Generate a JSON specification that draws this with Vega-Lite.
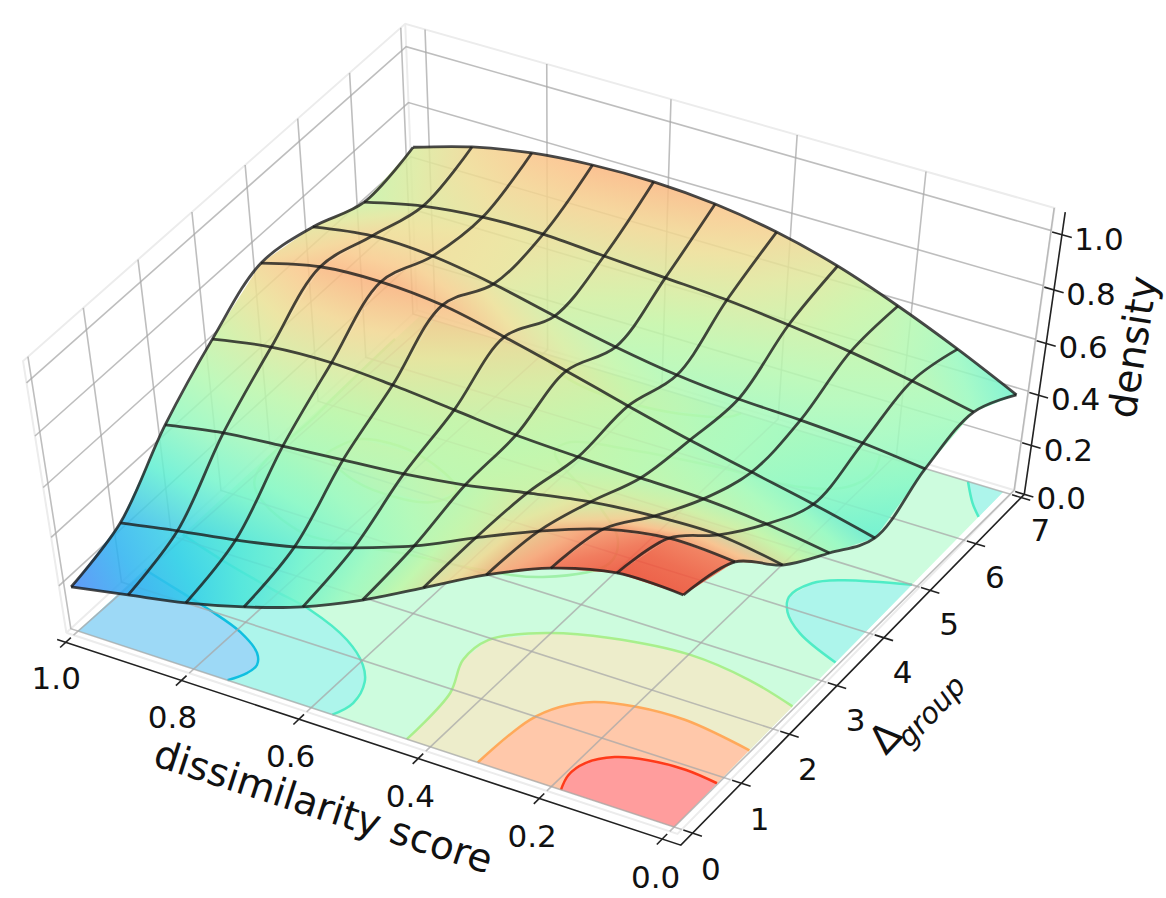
{"$schema":"https://vega.github.io/schema/vega-lite/v6.json","width":1166,"height":898,"padding":0,"autosize":{"type":"none"},"background":"white","config":{"view":{"stroke":null}},
"datasets":{"knots":[
{"id":7,"score":1.0,"delta":7,"density":0.658},{"id":17,"score":0.9,"delta":7,"density":0.723},{"id":27,"score":0.8,"delta":7,"density":0.765},{"id":37,"score":0.7,"delta":7,"density":0.785},{"id":47,"score":0.6,"delta":7,"density":0.788},{"id":57,"score":0.5,"delta":7,"density":0.772},{"id":67,"score":0.4,"delta":7,"density":0.735},{"id":77,"score":0.3,"delta":7,"density":0.676},{"id":87,"score":0.2,"delta":7,"density":0.594},{"id":97,"score":0.1,"delta":7,"density":0.499},{"id":107,"score":0.0,"delta":7,"density":0.393},
{"id":6,"score":1.0,"delta":6,"density":0.619},{"id":16,"score":0.9,"delta":6,"density":0.670},{"id":26,"score":0.8,"delta":6,"density":0.695},{"id":36,"score":0.7,"delta":6,"density":0.698},{"id":46,"score":0.6,"delta":6,"density":0.683},{"id":56,"score":0.5,"delta":6,"density":0.669},{"id":66,"score":0.4,"delta":6,"density":0.654},{"id":76,"score":0.3,"delta":6,"density":0.629},{"id":86,"score":0.2,"delta":6,"density":0.597},{"id":96,"score":0.1,"delta":6,"density":0.557},{"id":106,"score":0.0,"delta":6,"density":0.509},
{"id":5,"score":1.0,"delta":5,"density":0.695},{"id":15,"score":0.9,"delta":5,"density":0.728},{"id":25,"score":0.8,"delta":5,"density":0.720},{"id":35,"score":0.7,"delta":5,"density":0.683},{"id":45,"score":0.6,"delta":5,"density":0.631},{"id":55,"score":0.5,"delta":5,"density":0.583},{"id":65,"score":0.4,"delta":5,"density":0.546},{"id":75,"score":0.3,"delta":5,"density":0.525},{"id":85,"score":0.2,"delta":5,"density":0.516},{"id":95,"score":0.1,"delta":5,"density":0.500},{"id":105,"score":0.0,"delta":5,"density":0.473},
{"id":4,"score":1.0,"delta":4,"density":0.731},{"id":14,"score":0.9,"delta":4,"density":0.785},{"id":24,"score":0.8,"delta":4,"density":0.797},{"id":34,"score":0.7,"delta":4,"density":0.779},{"id":44,"score":0.6,"delta":4,"density":0.729},{"id":54,"score":0.5,"delta":4,"density":0.671},{"id":64,"score":0.4,"delta":4,"density":0.609},{"id":74,"score":0.3,"delta":4,"density":0.550},{"id":84,"score":0.2,"delta":4,"density":0.499},{"id":94,"score":0.1,"delta":4,"density":0.448},{"id":104,"score":0.0,"delta":4,"density":0.390},
{"id":3,"score":1.0,"delta":3,"density":0.618},{"id":13,"score":0.9,"delta":3,"density":0.658},{"id":23,"score":0.8,"delta":3,"density":0.669},{"id":33,"score":0.7,"delta":3,"density":0.655},{"id":43,"score":0.6,"delta":3,"density":0.632},{"id":53,"score":0.5,"delta":3,"density":0.608},{"id":63,"score":0.4,"delta":3,"density":0.597},{"id":73,"score":0.3,"delta":3,"density":0.590},{"id":83,"score":0.2,"delta":3,"density":0.584},{"id":93,"score":0.1,"delta":3,"density":0.562},{"id":103,"score":0.0,"delta":3,"density":0.525},
{"id":2,"score":1.0,"delta":2,"density":0.465},{"id":12,"score":0.9,"delta":2,"density":0.507},{"id":22,"score":0.8,"delta":2,"density":0.529},{"id":32,"score":0.7,"delta":2,"density":0.549},{"id":42,"score":0.6,"delta":2,"density":0.569},{"id":52,"score":0.5,"delta":2,"density":0.601},{"id":62,"score":0.4,"delta":2,"density":0.646},{"id":72,"score":0.3,"delta":2,"density":0.687},{"id":82,"score":0.2,"delta":2,"density":0.709},{"id":92,"score":0.1,"delta":2,"density":0.713},{"id":102,"score":0.0,"delta":2,"density":0.674},
{"id":1,"score":1.0,"delta":1,"density":0.258},{"id":11,"score":0.9,"delta":1,"density":0.303},{"id":21,"score":0.8,"delta":1,"density":0.343},{"id":31,"score":0.7,"delta":1,"density":0.393},{"id":41,"score":0.6,"delta":1,"density":0.467},{"id":51,"score":0.5,"delta":1,"density":0.553},{"id":61,"score":0.4,"delta":1,"density":0.663},{"id":71,"score":0.3,"delta":1,"density":0.767},{"id":81,"score":0.2,"delta":1,"density":0.852},{"id":91,"score":0.1,"delta":1,"density":0.895},{"id":101,"score":0.0,"delta":1,"density":0.883},
{"id":0,"score":1.0,"delta":0,"density":0.188},{"id":10,"score":0.9,"delta":0,"density":0.234},{"id":20,"score":0.8,"delta":0,"density":0.281},{"id":30,"score":0.7,"delta":0,"density":0.345},{"id":40,"score":0.6,"delta":0,"density":0.426},{"id":50,"score":0.5,"delta":0,"density":0.534},{"id":60,"score":0.4,"delta":0,"density":0.663},{"id":70,"score":0.3,"delta":0,"density":0.793},{"id":80,"score":0.2,"delta":0,"density":0.898},{"id":90,"score":0.1,"delta":0,"density":0.959},{"id":100,"score":0.0,"delta":0,"density":0.955}
],
"rows":[
{"k":"f","g":"bg","l":"mint","score":1,"delta":0},{"k":"f","g":"bg","l":"mint","score":1,"delta":7},{"k":"f","g":"bg","l":"mint","score":0,"delta":7},{"k":"f","g":"bg","l":"mint","score":0,"delta":0},
{"k":"f","g":"t1","l":"teal","score":1,"delta":0},{"k":"f","g":"t1","l":"teal","score":1,"delta":2.08},{"k":"f","g":"t1","l":"teal","score":0.903,"delta":1.85},{"k":"f","g":"t1","l":"teal","score":0.806,"delta":1.66},{"k":"f","g":"t1","l":"teal","score":0.732,"delta":1.53},{"k":"f","g":"t1","l":"teal","score":0.644,"delta":1.24},{"k":"f","g":"t1","l":"teal","score":0.591,"delta":0.93},{"k":"f","g":"t1","l":"teal","score":0.566,"delta":0.67},{"k":"f","g":"t1","l":"teal","score":0.553,"delta":0.285},{"k":"f","g":"t1","l":"teal","score":0.564,"delta":0},
{"k":"f","g":"b1","l":"blue","score":1,"delta":0},{"k":"f","g":"b1","l":"blue","score":1,"delta":1.32},{"k":"f","g":"b1","l":"blue","score":0.918,"delta":1.14},{"k":"f","g":"b1","l":"blue","score":0.86,"delta":1.01},{"k":"f","g":"b1","l":"blue","score":0.791,"delta":0.82},{"k":"f","g":"b1","l":"blue","score":0.741,"delta":0.575},{"k":"f","g":"b1","l":"blue","score":0.725,"delta":0.387},{"k":"f","g":"b1","l":"blue","score":0.727,"delta":0.21},{"k":"f","g":"b1","l":"blue","score":0.742,"delta":0},
{"k":"f","g":"t2","l":"teal","score":0,"delta":5.0},{"k":"f","g":"t2","l":"teal","score":0.094,"delta":4.72},{"k":"f","g":"t2","l":"teal","score":0.128,"delta":4.52},{"k":"f","g":"t2","l":"teal","score":0.14,"delta":4.18},{"k":"f","g":"t2","l":"teal","score":0.123,"delta":3.93},{"k":"f","g":"t2","l":"teal","score":0.081,"delta":3.65},{"k":"f","g":"t2","l":"teal","score":0,"delta":3.36},
{"k":"f","g":"t3","l":"teal","score":0.058,"delta":7},{"k":"f","g":"t3","l":"teal","score":0.025,"delta":6.66},{"k":"f","g":"t3","l":"teal","score":0,"delta":6.46},{"k":"f","g":"t3","l":"teal","score":0,"delta":7},
{"k":"f","g":"k1","l":"khaki","score":0.439,"delta":0},{"k":"f","g":"k1","l":"khaki","score":0.444,"delta":0.93},{"k":"f","g":"k1","l":"khaki","score":0.471,"delta":1.52},{"k":"f","g":"k1","l":"khaki","score":0.465,"delta":1.96},{"k":"f","g":"k1","l":"khaki","score":0.40,"delta":2.37},{"k":"f","g":"k1","l":"khaki","score":0.314,"delta":2.61},{"k":"f","g":"k1","l":"khaki","score":0.191,"delta":2.75},{"k":"f","g":"k1","l":"khaki","score":0.087,"delta":2.65},{"k":"f","g":"k1","l":"khaki","score":0,"delta":2.45},{"k":"f","g":"k1","l":"khaki","score":0,"delta":0},
{"k":"f","g":"k2","l":"khaki","score":0.927,"delta":4.17},{"k":"f","g":"k2","l":"khaki","score":0.903,"delta":4.58},{"k":"f","g":"k2","l":"khaki","score":0.802,"delta":4.62},{"k":"f","g":"k2","l":"khaki","score":0.706,"delta":4.23},{"k":"f","g":"k2","l":"khaki","score":0.72,"delta":3.91},{"k":"f","g":"k2","l":"khaki","score":0.815,"delta":3.8},{"k":"f","g":"k2","l":"khaki","score":0.886,"delta":3.96},{"k":"f","g":"k2","l":"khaki","score":0.927,"delta":4.17},
{"k":"f","g":"k3","l":"khaki","score":0.79,"delta":7},{"k":"f","g":"k3","l":"khaki","score":0.71,"delta":6.68},{"k":"f","g":"k3","l":"khaki","score":0.566,"delta":6.61},{"k":"f","g":"k3","l":"khaki","score":0.453,"delta":6.86},{"k":"f","g":"k3","l":"khaki","score":0.44,"delta":7},
{"k":"f","g":"s1","l":"salmon","score":0.321,"delta":0},{"k":"f","g":"s1","l":"salmon","score":0.31,"delta":0.92},{"k":"f","g":"s1","l":"salmon","score":0.289,"delta":1.27},{"k":"f","g":"s1","l":"salmon","score":0.253,"delta":1.52},{"k":"f","g":"s1","l":"salmon","score":0.194,"delta":1.66},{"k":"f","g":"s1","l":"salmon","score":0.116,"delta":1.70},{"k":"f","g":"s1","l":"salmon","score":0,"delta":1.55},{"k":"f","g":"s1","l":"salmon","score":0,"delta":0},
{"k":"f","g":"p1","l":"pink","score":0.184,"delta":0},{"k":"f","g":"p1","l":"pink","score":0.193,"delta":0.26},{"k":"f","g":"p1","l":"pink","score":0.187,"delta":0.53},{"k":"f","g":"p1","l":"pink","score":0.158,"delta":0.77},{"k":"f","g":"p1","l":"pink","score":0.113,"delta":0.89},{"k":"f","g":"p1","l":"pink","score":0.054,"delta":0.93},{"k":"f","g":"p1","l":"pink","score":0,"delta":0.88},{"k":"f","g":"p1","l":"pink","score":0,"delta":0},
{"k":"c","g":"c1","score":1,"delta":6.47},{"k":"c","g":"c1","score":0.995,"delta":4.8},{"k":"c","g":"c1","score":0.98,"delta":3.3},{"k":"c","g":"c1","score":0.858,"delta":2.75},{"k":"c","g":"c1","score":0.784,"delta":2.76},{"k":"c","g":"c1","score":0.693,"delta":2.91},{"k":"c","g":"c1","score":0.588,"delta":3.02},{"k":"c","g":"c1","score":0.478,"delta":3.25},{"k":"c","g":"c1","score":0.411,"delta":3.82},{"k":"c","g":"c1","score":0.431,"delta":4.24},{"k":"c","g":"c1","score":0.498,"delta":4.69},{"k":"c","g":"c1","score":0.629,"delta":5.36},{"k":"c","g":"c1","score":0.627,"delta":5.59},{"k":"c","g":"c1","score":0.531,"delta":5.81},{"k":"c","g":"c1","score":0.40,"delta":5.96},{"k":"c","g":"c1","score":0.266,"delta":6.05},{"k":"c","g":"c1","score":0.206,"delta":6.29},{"k":"c","g":"c1","score":0.191,"delta":6.66},{"k":"c","g":"c1","score":0.205,"delta":7},
{"k":"e","g":"e1","score":1.0125,"delta":-0.0875},{"k":"e","g":"e1","score":1.0125,"delta":-0.0875,"density":1.08},{"k":"e","g":"e1","score":1.0125,"delta":7.0875,"density":1.08},{"k":"e","g":"e1","score":-0.0125,"delta":7.0875,"density":1.08},{"k":"e","g":"e1","score":-0.0125,"delta":7.0875},{"k":"e","g":"e1","score":-0.0125,"delta":-0.0875},{"k":"e","g":"e1","score":1.0125,"delta":-0.0875},
{"k":"e","g":"e2","score":1.0125,"delta":7.0875,"density":1.08},{"k":"e","g":"e2","score":1.0125,"delta":7.0875},{"k":"e","g":"e2","score":1.0125,"delta":-0.0875},
{"k":"e","g":"e3","score":1.0125,"delta":7.0875},{"k":"e","g":"e3","score":-0.0125,"delta":7.0875},
{"k":"w","g":"s0","score":0,"delta":-0.0875},{"k":"w","g":"s0","score":-0.012,"delta":7.0875},{"k":"w","g":"s0","score":-0.012,"delta":7.0875,"density":1.08},
{"k":"w","g":"s2","score":0.2,"delta":-0.0875},{"k":"w","g":"s2","score":0.184,"delta":7.0875},{"k":"w","g":"s2","score":0.184,"delta":7.0875,"density":1.08},
{"k":"w","g":"s4","score":0.4,"delta":-0.0875},{"k":"w","g":"s4","score":0.384,"delta":7.0875},{"k":"w","g":"s4","score":0.384,"delta":7.0875,"density":1.08},
{"k":"w","g":"s6","score":0.6,"delta":-0.0875},{"k":"w","g":"s6","score":0.583,"delta":7.0875},{"k":"w","g":"s6","score":0.583,"delta":7.0875,"density":1.08},
{"k":"w","g":"s8","score":0.8,"delta":-0.0875},{"k":"w","g":"s8","score":0.782,"delta":7.0875},{"k":"w","g":"s8","score":0.782,"delta":7.0875,"density":1.08},
{"k":"w","g":"s10","score":1,"delta":-0.0875},{"k":"w","g":"s10","score":0.98,"delta":7.0875},{"k":"w","g":"s10","score":0.98,"delta":7.0875,"density":1.08},
{"k":"w","g":"d0","score":-0.0125,"delta":0},{"k":"w","g":"d0","score":1.0125,"delta":0},{"k":"w","g":"d0","score":1.0125,"delta":0,"density":1.08},
{"k":"w","g":"d1","score":-0.0125,"delta":1},{"k":"w","g":"d1","score":1.0125,"delta":1},{"k":"w","g":"d1","score":1.0125,"delta":1,"density":1.08},
{"k":"w","g":"d2","score":-0.0125,"delta":2},{"k":"w","g":"d2","score":1.0125,"delta":2},{"k":"w","g":"d2","score":1.0125,"delta":2,"density":1.08},
{"k":"w","g":"d3","score":-0.0125,"delta":3},{"k":"w","g":"d3","score":1.0125,"delta":3},{"k":"w","g":"d3","score":1.0125,"delta":3,"density":1.08},
{"k":"w","g":"d4","score":-0.0125,"delta":4},{"k":"w","g":"d4","score":1.0125,"delta":4},{"k":"w","g":"d4","score":1.0125,"delta":4,"density":1.08},
{"k":"w","g":"d5","score":-0.0125,"delta":5},{"k":"w","g":"d5","score":1.0125,"delta":5},{"k":"w","g":"d5","score":1.0125,"delta":5,"density":1.08},
{"k":"w","g":"d6","score":-0.0125,"delta":6},{"k":"w","g":"d6","score":1.0125,"delta":6},{"k":"w","g":"d6","score":1.0125,"delta":6,"density":1.08},
{"k":"w","g":"d7","score":-0.0125,"delta":7},{"k":"w","g":"d7","score":1.0125,"delta":7},{"k":"w","g":"d7","score":1.0125,"delta":7,"density":1.08},
{"k":"w","g":"z2","score":1.0125,"delta":-0.0875,"density":0.2},{"k":"w","g":"z2","score":1.0125,"delta":7.0875,"density":0.2},{"k":"w","g":"z2","score":-0.0125,"delta":7.0875,"density":0.2},
{"k":"w","g":"z4","score":1.0125,"delta":-0.0875,"density":0.4},{"k":"w","g":"z4","score":1.0125,"delta":7.0875,"density":0.4},{"k":"w","g":"z4","score":-0.0125,"delta":7.0875,"density":0.4},
{"k":"w","g":"z6","score":1.0125,"delta":-0.0875,"density":0.6},{"k":"w","g":"z6","score":1.0125,"delta":7.0875,"density":0.6},{"k":"w","g":"z6","score":-0.0125,"delta":7.0875,"density":0.6},
{"k":"w","g":"z8","score":1.0125,"delta":-0.0875,"density":0.8},{"k":"w","g":"z8","score":1.0125,"delta":7.0875,"density":0.8},{"k":"w","g":"z8","score":-0.0125,"delta":7.0875,"density":0.8},
{"k":"w","g":"z10","score":1.0125,"delta":-0.0875,"density":1},{"k":"w","g":"z10","score":1.0125,"delta":7.0875,"density":1},{"k":"w","g":"z10","score":-0.0125,"delta":7.0875,"density":1},
{"k":"a","g":"ax","score":1.015,"delta":-0.24},{"k":"a","g":"ax","score":-0.03,"delta":-0.24},{"k":"a","g":"ax","score":-0.03,"delta":7.07},
{"k":"a","g":"az","score":-0.03,"delta":7.07},{"k":"a","g":"az","score":-0.03,"delta":7.07,"density":1.08},
{"k":"a","g":"tx0","score":0,"delta":-0.35},{"k":"a","g":"tx0","score":0,"delta":-0.14},{"k":"a","g":"tx2","score":0.2,"delta":-0.35},{"k":"a","g":"tx2","score":0.2,"delta":-0.14},{"k":"a","g":"tx4","score":0.4,"delta":-0.35},{"k":"a","g":"tx4","score":0.4,"delta":-0.14},{"k":"a","g":"tx6","score":0.6,"delta":-0.35},{"k":"a","g":"tx6","score":0.6,"delta":-0.14},{"k":"a","g":"tx8","score":0.8,"delta":-0.35},{"k":"a","g":"tx8","score":0.8,"delta":-0.14},{"k":"a","g":"tx10","score":1,"delta":-0.35},{"k":"a","g":"tx10","score":1,"delta":-0.14},
{"k":"a","g":"ty0","score":-0.015,"delta":0},{"k":"a","g":"ty0","score":-0.045,"delta":0},{"k":"a","g":"ty1","score":-0.015,"delta":1},{"k":"a","g":"ty1","score":-0.045,"delta":1},{"k":"a","g":"ty2","score":-0.015,"delta":2},{"k":"a","g":"ty2","score":-0.045,"delta":2},{"k":"a","g":"ty3","score":-0.015,"delta":3},{"k":"a","g":"ty3","score":-0.045,"delta":3},{"k":"a","g":"ty4","score":-0.015,"delta":4},{"k":"a","g":"ty4","score":-0.045,"delta":4},{"k":"a","g":"ty5","score":-0.015,"delta":5},{"k":"a","g":"ty5","score":-0.045,"delta":5},{"k":"a","g":"ty6","score":-0.015,"delta":6},{"k":"a","g":"ty6","score":-0.045,"delta":6},{"k":"a","g":"ty7","score":-0.015,"delta":7},{"k":"a","g":"ty7","score":-0.045,"delta":7},
{"k":"a","g":"tz0","score":-0.015,"delta":7.07,"density":0},{"k":"a","g":"tz0","score":-0.045,"delta":7.07,"density":0},{"k":"a","g":"tz2","score":-0.015,"delta":7.07,"density":0.2},{"k":"a","g":"tz2","score":-0.045,"delta":7.07,"density":0.2},{"k":"a","g":"tz4","score":-0.015,"delta":7.07,"density":0.4},{"k":"a","g":"tz4","score":-0.045,"delta":7.07,"density":0.4},{"k":"a","g":"tz6","score":-0.015,"delta":7.07,"density":0.6},{"k":"a","g":"tz6","score":-0.045,"delta":7.07,"density":0.6},{"k":"a","g":"tz8","score":-0.015,"delta":7.07,"density":0.8},{"k":"a","g":"tz8","score":-0.045,"delta":7.07,"density":0.8},{"k":"a","g":"tz10","score":-0.015,"delta":7.07,"density":1},{"k":"a","g":"tz10","score":-0.045,"delta":7.07,"density":1},
{"k":"l","t":"1.0","score":0.96,"delta":-0.875},{"k":"l","t":"0.8","score":0.76,"delta":-0.875},{"k":"l","t":"0.6","score":0.56,"delta":-0.875},{"k":"l","t":"0.4","score":0.36,"delta":-0.875},{"k":"l","t":"0.2","score":0.16,"delta":-0.875},{"k":"l","t":"0.0","score":-0.04,"delta":-0.875},
{"k":"l","t":"0","score":-0.097,"delta":-0.48},{"k":"l","t":"1","score":-0.097,"delta":0.52},{"k":"l","t":"2","score":-0.097,"delta":1.52},{"k":"l","t":"3","score":-0.097,"delta":2.52},{"k":"l","t":"4","score":-0.097,"delta":3.52},{"k":"l","t":"5","score":-0.097,"delta":4.52},{"k":"l","t":"6","score":-0.097,"delta":5.52},{"k":"l","t":"7","score":-0.097,"delta":6.52},
{"k":"lz","t":"0.0","score":-0.03,"delta":7.07,"density":0},{"k":"lz","t":"0.2","score":-0.03,"delta":7.07,"density":0.2},{"k":"lz","t":"0.4","score":-0.03,"delta":7.07,"density":0.4},{"k":"lz","t":"0.6","score":-0.03,"delta":7.07,"density":0.6},{"k":"lz","t":"0.8","score":-0.03,"delta":7.07,"density":0.8},{"k":"lz","t":"1.0","score":-0.03,"delta":7.07,"density":1},
{"k":"tx","t":"dissimilarity score","score":0.455,"delta":-1.47},
{"k":"tz","t":"density","score":-0.142,"delta":7.43,"density":0.6},
{"k":"td","t":"Δ","score":-0.154,"delta":2.42},
{"k":"tg","t":"group","score":-0.179,"delta":3.06}
]},
"data":{"name":"rows"},
"transform":[
{"window":[{"op":"row_number","as":"n"}]},
{"calculate":"1-datum.score","as":"u"},{"calculate":"datum.delta/7","as":"v"},{"calculate":"datum.density||0","as":"z"},
{"calculate":"1-0.037*datum.u+0.0432*datum.v-0.07508*datum.z","as":"w"},
{"calculate":"(78+571.1*datum.u+360.1*datum.v-41.83*datum.z)/datum.w","as":"px"},
{"calculate":"(631+165.4*datum.u-301.3*datum.v-278.66*datum.z)/datum.w","as":"py"}],
"encoding":{"x":{"field":"px","type":"quantitative","scale":{"domain":[0,1166],"nice":false,"zero":false},"axis":null},"y":{"field":"py","type":"quantitative","scale":{"domain":[898,0],"nice":false,"zero":false},"axis":null}},
"layer":[
{"transform":[{"filter":"datum.k=='f'"}],"mark":{"type":"line","filled":true,"strokeWidth":0},"encoding":{"detail":{"field":"g"},"order":{"field":"n"},"color":{"field":"l","type":"nominal","legend":null,"scale":{"domain":["mint","teal","blue","khaki","salmon","pink"],"range":["#cdfcde","#adf5eb","#9dd9f6","#ededcb","#ffc8aa","#ff9d9d"]}}}},
{"transform":[{"filter":"datum.k=='f' && datum.g!='bg' && !((datum.score==0||datum.score==1)&&(datum.delta==0||datum.delta==7))"}],"mark":{"type":"line","strokeWidth":2.5,"interpolate":"catmull-rom"},"encoding":{"detail":{"field":"g"},"order":{"field":"n"},"stroke":{"field":"l","type":"nominal","legend":null,"scale":{"domain":["teal","blue","khaki","salmon","pink"],"range":["#4fecc6","#10bfe0","#a9ef8c","#ffa95a","#ff3a1a"]}}}},
{"transform":[{"filter":"datum.k=='c'"}],"mark":{"type":"line","stroke":"#9ff0a8","strokeWidth":2.5,"interpolate":"catmull-rom"},"encoding":{"detail":{"field":"g"},"order":{"field":"n"}}},
{"transform":[{"filter":"datum.k=='e'"}],"mark":{"type":"line","stroke":"#ececec","strokeWidth":2},"encoding":{"detail":{"field":"g"},"order":{"field":"n"}}},
{"transform":[{"filter":"datum.k=='w'"}],"mark":{"type":"line","stroke":"#a8a8a8","strokeOpacity":0.75,"strokeWidth":1.6},"encoding":{"detail":{"field":"g"},"order":{"field":"n"}}},
{"data":{"name":"knots"},"transform":[
{"calculate":"round((1-datum.score)*10)","as":"i"},{"filter":"datum.i<10 && datum.delta<7"},{"calculate":"[0,1,2,3]","as":"c"},{"flatten":["c"]},
{"calculate":"datum.i*10+datum.delta","as":"cell"},
{"calculate":"(datum.i+(datum.c==1||datum.c==2?1:0))*10+datum.delta+(datum.c>=2?1:0)","as":"cid"},
{"lookup":"cid","from":{"data":{"name":"knots"},"key":"id","fields":["score","delta","density"]},"as":["cs","cd","cz"]},
{"calculate":"1-datum.cs","as":"u"},{"calculate":"datum.cd/7","as":"v"},{"calculate":"datum.cz","as":"z"},
{"calculate":"1-0.037*datum.u+0.0432*datum.v-0.07508*datum.z","as":"w"},
{"calculate":"(78+571.1*datum.u+360.1*datum.v-41.83*datum.z)/datum.w","as":"px"},
{"calculate":"(631+165.4*datum.u-301.3*datum.v-278.66*datum.z)/datum.w","as":"py"},
{"joinaggregate":[{"op":"values","field":"px","as":"q"}],"groupby":["cell"]},
{"calculate":"((datum.q[1].px-datum.q[0].px)+(datum.q[2].px-datum.q[3].px))/2","as":"e1x"},
{"calculate":"((datum.q[1].py-datum.q[0].py)+(datum.q[2].py-datum.q[3].py))/2","as":"e1y"},
{"calculate":"((datum.q[3].px-datum.q[0].px)+(datum.q[2].px-datum.q[1].px))/2","as":"e2x"},
{"calculate":"((datum.q[3].py-datum.q[0].py)+(datum.q[2].py-datum.q[1].py))/2","as":"e2y"},
{"calculate":"(datum.q[1].cz+datum.q[2].cz-datum.q[0].cz-datum.q[3].cz)/2","as":"d1"},
{"calculate":"(datum.q[3].cz+datum.q[2].cz-datum.q[0].cz-datum.q[1].cz)/2","as":"d2"},
{"calculate":"datum.e1x*datum.e2y-datum.e1y*datum.e2x","as":"det"},
{"calculate":"(datum.d1*datum.e2y-datum.d2*datum.e1y)/datum.det","as":"gx"},
{"calculate":"(datum.d2*datum.e1x-datum.d1*datum.e2x)/datum.det","as":"gy"},
{"calculate":"min(datum.q[0].px,datum.q[1].px,datum.q[2].px,datum.q[3].px)","as":"x0"},
{"calculate":"max(datum.q[0].px,datum.q[1].px,datum.q[2].px,datum.q[3].px)-datum.x0","as":"bw"},
{"calculate":"min(datum.q[0].py,datum.q[1].py,datum.q[2].py,datum.q[3].py)","as":"y0"},
{"calculate":"max(datum.q[0].py,datum.q[1].py,datum.q[2].py,datum.q[3].py)-datum.y0","as":"bh"},
{"calculate":"((datum.q[0].px+datum.q[1].px+datum.q[2].px+datum.q[3].px)/4-datum.x0)/datum.bw","as":"cx"},
{"calculate":"((datum.q[0].py+datum.q[1].py+datum.q[2].py+datum.q[3].py)/4-datum.y0)/datum.bh","as":"cy"},
{"calculate":"(datum.q[0].cz+datum.q[1].cz+datum.q[2].cz+datum.q[3].cz)/4","as":"zc"},
{"calculate":"datum.gx*datum.bw","as":"ax"},{"calculate":"datum.gy*datum.bh","as":"ay"},
{"calculate":"sqrt(datum.ax*datum.ax+datum.ay*datum.ay)+0.000001","as":"am"},
{"calculate":"[[75,130,248],[35,195,238],[80,235,215],[130,248,200],[170,250,185],[195,245,165],[235,225,150],[255,190,135],[250,125,90],[240,60,40],[240,60,40]]","as":"P"},
{"calculate":"clamp((datum.zc-0.7*datum.am-0.18)/0.78,0,1)*9","as":"tA"},
{"calculate":"clamp((datum.zc-0.18)/0.78,0,1)*9","as":"tM"},
{"calculate":"clamp((datum.zc+0.7*datum.am-0.18)/0.78,0,1)*9","as":"tB"},
{"calculate":"floor(datum.tA)","as":"nA"},{"calculate":"floor(datum.tM)","as":"nM"},{"calculate":"floor(datum.tB)","as":"nB"},
{"calculate":"datum.tA-datum.nA","as":"fA"},{"calculate":"datum.tM-datum.nM","as":"fM"},{"calculate":"datum.tB-datum.nB","as":"fB"},
{"calculate":"'rgb('+round(datum.P[datum.nA][0]*(1-datum.fA)+datum.P[datum.nA+1][0]*datum.fA)+','+round(datum.P[datum.nA][1]*(1-datum.fA)+datum.P[datum.nA+1][1]*datum.fA)+','+round(datum.P[datum.nA][2]*(1-datum.fA)+datum.P[datum.nA+1][2]*datum.fA)+')'","as":"cA"},
{"calculate":"'rgb('+round(datum.P[datum.nM][0]*(1-datum.fM)+datum.P[datum.nM+1][0]*datum.fM)+','+round(datum.P[datum.nM][1]*(1-datum.fM)+datum.P[datum.nM+1][1]*datum.fM)+','+round(datum.P[datum.nM][2]*(1-datum.fM)+datum.P[datum.nM+1][2]*datum.fM)+')'","as":"cM"},
{"calculate":"'rgb('+round(datum.P[datum.nB][0]*(1-datum.fB)+datum.P[datum.nB+1][0]*datum.fB)+','+round(datum.P[datum.nB][1]*(1-datum.fB)+datum.P[datum.nB+1][1]*datum.fB)+','+round(datum.P[datum.nB][2]*(1-datum.fB)+datum.P[datum.nB+1][2]*datum.fB)+')'","as":"cB"},
{"calculate":"{gradient:'linear',x1:datum.cx-0.7*datum.ax/datum.am,y1:datum.cy-0.7*datum.ay/datum.am,x2:datum.cx+0.7*datum.ax/datum.am,y2:datum.cy+0.7*datum.ay/datum.am,stops:[{offset:0,color:datum.cA},{offset:0.5,color:datum.cM},{offset:1,color:datum.cB}]}","as":"grad"}],
"mark":{"type":"line","filled":true,"strokeWidth":0,"fillOpacity":0.86},"encoding":{"detail":{"field":"cell"},"order":{"field":"c"},"fill":{"field":"grad","type":"quantitative","scale":null}}},
{"data":{"name":"knots"},"transform":[
{"calculate":"1-datum.score","as":"u"},{"calculate":"datum.delta/7","as":"v"},{"calculate":"datum.density","as":"z"},
{"calculate":"1-0.037*datum.u+0.0432*datum.v-0.07508*datum.z","as":"w"},
{"calculate":"(78+571.1*datum.u+360.1*datum.v-41.83*datum.z)/datum.w","as":"px"},
{"calculate":"(631+165.4*datum.u-301.3*datum.v-278.66*datum.z)/datum.w","as":"py"}],
"layer":[
{"mark":{"type":"line","stroke":"#1a1a1a","strokeOpacity":0.8,"strokeWidth":2.8,"interpolate":"catmull-rom"},"encoding":{"detail":{"field":"delta"},"order":{"field":"score","sort":"descending"}}},
{"mark":{"type":"line","stroke":"#1a1a1a","strokeOpacity":0.8,"strokeWidth":2.8,"interpolate":"catmull-rom"},"encoding":{"detail":{"field":"score"},"order":{"field":"delta"}}}
]},
{"transform":[{"filter":"datum.k=='a'"}],"mark":{"type":"line","stroke":"#222222","strokeWidth":1.6},"encoding":{"detail":{"field":"g"},"order":{"field":"n"}}},
{"transform":[{"filter":"datum.k=='l'"}],"mark":{"type":"text","font":"DejaVu Sans","fontSize":31,"color":"#111111","align":"center","baseline":"middle"},"encoding":{"text":{"field":"t"}}},
{"transform":[{"filter":"datum.k=='lz'"}],"mark":{"type":"text","font":"DejaVu Sans","fontSize":31,"color":"#111111","align":"center","baseline":"middle","dx":37,"dy":6},"encoding":{"text":{"field":"t"}}},
{"transform":[{"filter":"datum.k=='tx'"}],"mark":{"type":"text","font":"DejaVu Sans","fontSize":39,"color":"#111111","align":"center","baseline":"middle","angle":18},"encoding":{"text":{"field":"t"}}},
{"transform":[{"filter":"datum.k=='tz'"}],"mark":{"type":"text","font":"DejaVu Sans","fontSize":39,"color":"#111111","align":"center","baseline":"middle","angle":-81},"encoding":{"text":{"field":"t"}}},
{"transform":[{"filter":"datum.k=='td'"}],"mark":{"type":"text","font":"DejaVu Sans","fontSize":39,"color":"#111111","align":"center","baseline":"middle","angle":-47},"encoding":{"text":{"field":"t"}}},
{"transform":[{"filter":"datum.k=='tg'"}],"mark":{"type":"text","font":"DejaVu Sans","fontSize":29,"fontStyle":"italic","color":"#111111","align":"center","baseline":"middle","angle":-47},"encoding":{"text":{"field":"t"}}}
]}
